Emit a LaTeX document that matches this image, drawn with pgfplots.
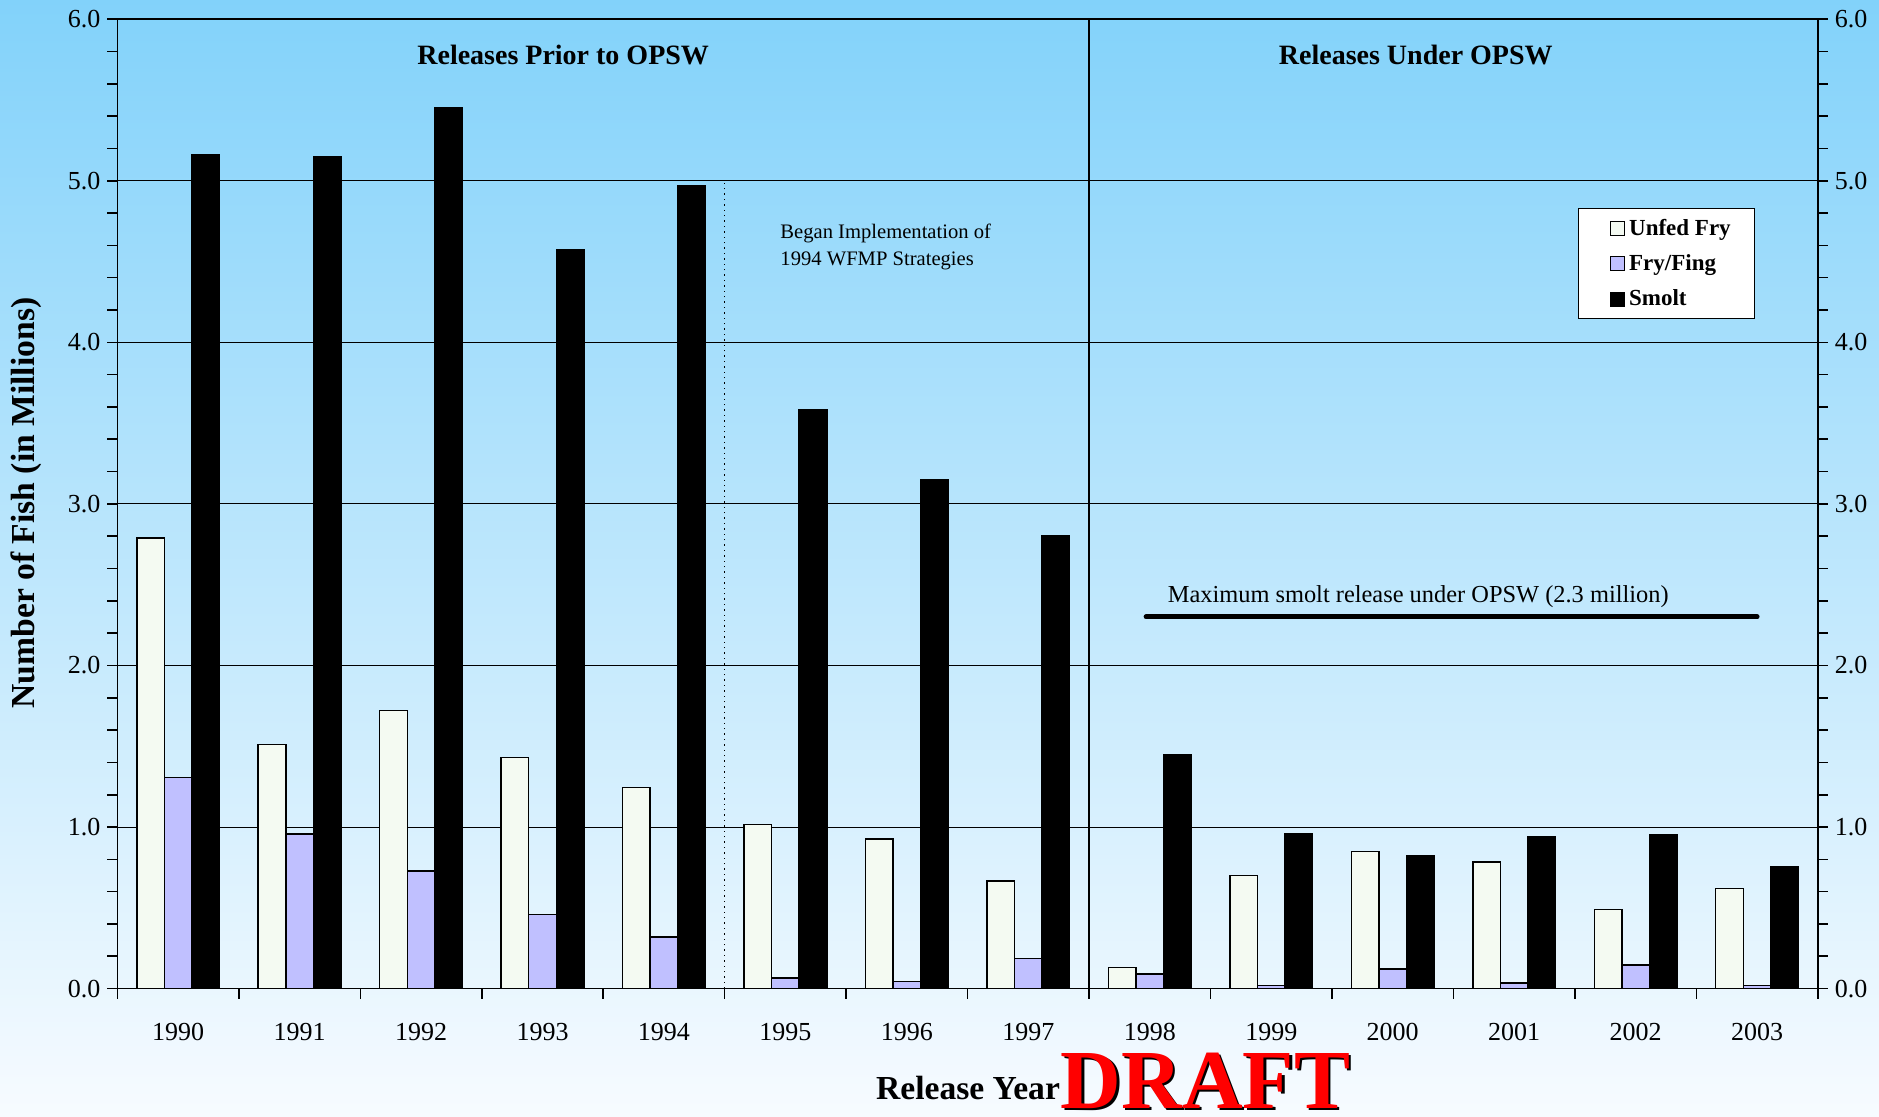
\documentclass[border=0pt]{standalone}
\usepackage{pgfplots}
\pgfplotsset{compat=1.18}
\usepackage{fontspec}
\setmainfont{Liberation Serif}
\definecolor{bgtop}{RGB}{130,210,250}
\definecolor{bgbot}{RGB}{247,251,255}
\definecolor{unfed}{RGB}{244,250,242}
\definecolor{fing}{RGB}{192,192,255}

\pgfplotstableread{
x unfed fing smolt
0  2.79 1.305 5.16
1  1.51 0.957 5.15
2  1.72 0.727 5.45
3  1.43 0.46  4.576
4  1.246 0.319 4.97
5  1.016 0.067 3.58
6  0.927 0.045 3.15
7  0.667 0.185 2.80
8  0.13 0.09 1.45
9  0.70 0.02 0.96
10 0.85 0.12 0.82
11 0.785 0.035 0.94
12 0.49 0.145 0.955
13 0.62 0.02 0.755
}\datatable

\begin{document}
\begin{tikzpicture}[x=1pt,y=1pt]
\shade[top color=bgtop, bottom color=bgbot] (0,0) rectangle (939.5,558.5);
\useasboundingbox (0,0) rectangle (939.5,558.5);
\begin{axis}[
  at={(58.7pt,64.2pt)}, anchor=south west,
  scale only axis, width=850.2pt, height=484.7pt,
  ymin=0, ymax=6, xmin=-0.5, xmax=13.5,
  axis line style={black, line width=0.9pt},
  tick align=outside,
  major tick length=5pt, minor tick length=5pt,
  tick style={black, line width=0.8pt},
  xtick={0,...,13},
  xticklabels={1990,1991,1992,1993,1994,1995,1996,1997,1998,1999,2000,2001,2002,2003},
  major x tick style={draw=none},
  minor xtick={-0.5,0.5,...,13.5},
  xtick pos=bottom, ytick pos=left,
  ytick={0,1,...,6}, minor y tick num=4,
  ymajorgrids, major grid style={black, line width=0.5pt},
  yticklabel style={/pgf/number format/.cd, fixed, fixed zerofill, precision=1, assume math mode=true},
  ticklabel style={font=\fontsize{13}{15}\selectfont},
  xticklabel style={yshift=-9pt},
  legend style={at={(rel axis cs:0.859,0.805)}, anchor=north west, draw=black, fill=white, line width=0.6pt,
    font=\bfseries\fontsize{11.5}{13}\selectfont, inner xsep=10pt, inner ysep=3pt, row sep=4.2pt,
    /tikz/every even column/.append style={column sep=0pt}},
  legend cell align=left,
  legend image code/.code={\path[draw=none,fill=none] (0pt,0pt) -- (13pt,0pt);\draw[#1,draw=black,line width=0.5pt] (6pt,-3.5pt) rectangle (13pt,3.5pt);},
]
\addplot[ybar, bar width=0.227, bar shift=-0.227, fill=unfed, draw=black, line width=0.75pt] table[x=x,y=unfed]{\datatable};
\addlegendentry{Unfed Fry}
\addplot[ybar, bar width=0.227, bar shift=0, fill=fing, draw=black, line width=0.75pt] table[x=x,y=fing]{\datatable};
\addlegendentry{Fry/Fing}
\addplot[ybar, bar width=0.227, bar shift=0.227, fill=black, draw=black, line width=0.75pt] table[x=x,y=smolt]{\datatable};
\addlegendentry{Smolt}
\addplot[forget plot, sharp plot, no marks, black, line width=0.9pt] coordinates {(7.5,0) (7.5,6)};
\addplot[forget plot, sharp plot, no marks, black, dotted, line width=0.7pt] coordinates {(4.5,0) (4.5,5)};
\addplot[forget plot, sharp plot, no marks, black, line width=2.5pt, line cap=round] coordinates {(7.97,2.3) (13.0,2.3)};
\node[font=\bfseries\fontsize{14}{16}\selectfont] at (axis cs:3.17,5.78) {Releases Prior to OPSW};
\node[font=\bfseries\fontsize{14}{16}\selectfont] at (axis cs:10.19,5.78) {Releases Under OPSW};
\node[font=\fontsize{12.2}{14}\selectfont] at (axis cs:10.21,2.428) {Maximum smolt release under OPSW (2.3 million)};
\node[font=\fontsize{10.3}{13.5}\selectfont, align=left, anchor=west, inner sep=0pt] at (axis cs:4.956,4.59) {Began Implementation of\\1994 WFMP Strategies};
\end{axis}
\begin{axis}[
  at={(58.7pt,64.2pt)}, anchor=south west,
  scale only axis, width=850.2pt, height=484.7pt,
  ymin=0, ymax=6, xmin=-0.5, xmax=13.5,
  hide x axis, axis y line*=right,
  axis line style={black, line width=0.9pt},
  tick align=outside,
  major tick length=5pt, minor tick length=5pt,
  tick style={black, line width=0.8pt},
  ytick={0,1,...,6}, minor y tick num=4,
  yticklabel style={/pgf/number format/.cd, fixed, fixed zerofill, precision=1, assume math mode=true},
  ticklabel style={font=\fontsize{13}{15}\selectfont},
]
\addplot[draw=none] coordinates {(0,0)};
\end{axis}
\node[rotate=90, font=\bfseries\fontsize{16.8}{19}\selectfont] at (13.2,307) {Number of Fish (in Millions)};
\node[anchor=base, font=\bfseries\fontsize{16.8}{19}\selectfont] at (484,8.5) {Release Year};
\node[anchor=base, font=\bfseries\fontsize{42}{48}\selectfont, text=black, inner sep=0pt] at (604,3) {DRAFT};
\node[anchor=base, font=\bfseries\fontsize{42}{48}\selectfont, text=red, inner sep=0pt] at (602.8,4) {DRAFT};
\end{tikzpicture}
\end{document}
